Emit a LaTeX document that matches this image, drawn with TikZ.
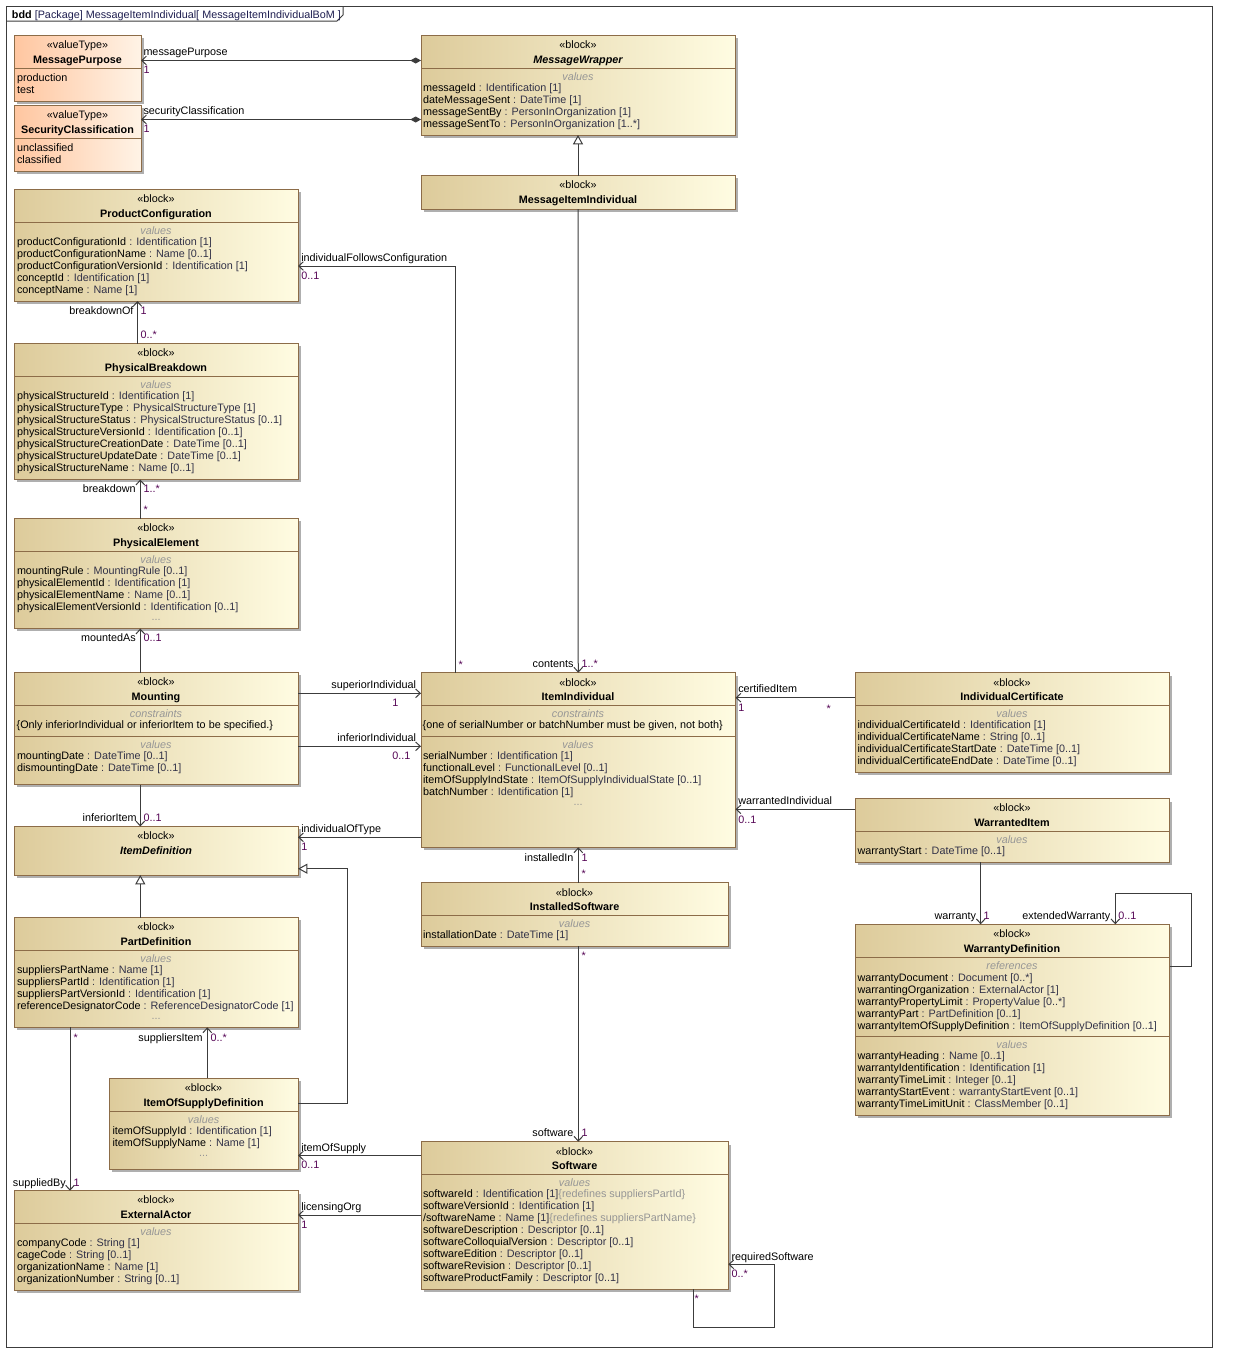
\documentclass[tikz,border=0pt]{standalone}
\usepackage{fontspec}
\setmainfont{Liberation Sans}
\usetikzlibrary{arrows.meta,shadows,fit}
\definecolor{bord}{RGB}{140,108,72}
\definecolor{blkL}{RGB}{221,203,155}
\definecolor{blkR}{RGB}{255,252,226}
\definecolor{vtL}{RGB}{255,198,160}
\definecolor{vtR}{RGB}{255,243,230}
\definecolor{typc}{RGB}{50,50,72}
\definecolor{multc}{RGB}{85,5,85}
\definecolor{lnc}{RGB}{60,60,60}
\definecolor{gtxt}{RGB}{150,150,150}
\definecolor{shad}{RGB}{175,175,175}
\definecolor{navyt}{RGB}{30,30,80}
\newcommand{\typ}[1]{\textcolor{typc}{#1}}
\newcommand{\rdf}[1]{\textcolor{gtxt}{#1}}
\newcounter{tnc}
\tikzset{
 autoname/.code={\stepcounter{tnc}\pgfkeysalso{/tikz/name=tx\arabic{tnc}}},
 blk/.style={draw=bord, line width=0.75pt, left color=blkL, right color=blkR,
   drop shadow={shadow xshift=2.2pt, shadow yshift=-2.2pt, fill=shad, opacity=1}},
 vt/.style={blk, left color=vtL, right color=vtR},
 sepl/.style={draw=bord, line width=0.75pt},
 st/.style={anchor=mid, yshift=-0.6pt, autoname},
 nm/.style={anchor=mid, yshift=-0.6pt, font=\fontsize{8.1}{9}\selectfont\bfseries, autoname},
 nmi/.style={anchor=mid, yshift=-0.6pt, font=\fontsize{8.1}{9}\selectfont\bfseries\itshape, autoname},
 cmp/.style={anchor=mid, yshift=-0.6pt, text=gtxt, font=\fontsize{8.1}{9}\selectfont\itshape, autoname},
 dts/.style={anchor=mid, yshift=-0.6pt, text=gtxt, autoname},
 al/.style={anchor=mid west, yshift=-0.6pt, autoname},
 rl/.style={anchor=mid west, yshift=-0.6pt, autoname},
 rr/.style={anchor=mid east, yshift=-0.6pt, autoname},
 ml/.style={anchor=mid west, yshift=-0.6pt, text=multc, autoname},
 mr/.style={anchor=mid east, yshift=-0.6pt, text=multc, autoname},
 asc/.style={draw=lnc, line width=0.75pt, -{Straight Barb[length=3.5pt,width=6.5pt]}},
 cps/.style={draw=lnc, line width=0.75pt, {Diamond[length=8pt,width=4.5pt,fill=lnc]}-{Straight Barb[length=3.5pt,width=6.5pt]}},
 gen/.style={draw=lnc, line width=0.75pt, -{Triangle[open,length=7pt,width=7.5pt,fill=white]}},
}
\begin{document}
\begin{tikzpicture}[x=0.75pt,y=-0.75pt,
  every node/.style={inner sep=0pt, outer sep=0pt, font=\fontsize{8.1}{9}\selectfont}]
\useasboundingbox (0,0) rectangle (1236,1372);
\fill[white] (0,0) rectangle (1236,1372);
% frame
\draw[lnc, line width=0.75pt] (6,6) rectangle (1212,1347);
\draw[lnc, line width=0.75pt] (6,21) -- (337,21) -- (343,15) -- (343,6);
\node[al] at (12,14) {\textbf{bdd} \textcolor{navyt}{[Package] MessageItemIndividual[ MessageItemIndividualBoM ]}};

% ---------------- MessagePurpose
\node[vt, fit={(14,35) (141,101)}] (mp) {};
\node[st] at (77.5,44.5) {«valueType»};
\node[nm] at (77.5,59.3) {MessagePurpose};
\draw[sepl] (mp.west|-0,68.5) -- (mp.east|-0,68.5);
\node[al] at (17,77.3) {production};
\node[al] at (17,89.3) {test};
% ---------------- SecurityClassification
\node[vt, fit={(14,105) (141,171)}] (sc) {};
\node[st] at (77.5,114.5) {«valueType»};
\node[nm] at (77.5,129.3) {SecurityClassification};
\draw[sepl] (sc.west|-0,138.5) -- (sc.east|-0,138.5);
\node[al] at (17,147.3) {unclassified};
\node[al] at (17,159.3) {classified};

% ---------------- MessageWrapper
\node[blk, fit={(421,35) (735,135)}] (mw) {};
\node[st] at (578,44.5) {«block»};
\node[nmi] at (578,59.3) {MessageWrapper};
\draw[sepl] (mw.west|-0,68.5) -- (mw.east|-0,68.5);
\node[cmp] at (578,75.7) {values};
\node[al] at (423,87.3) {messageId \typ{: Identification [1]}};
\node[al] at (423,99.3) {dateMessageSent \typ{: DateTime [1]}};
\node[al] at (423,111.3) {messageSentBy \typ{: PersonInOrganization [1]}};
\node[al] at (423,123.3) {messageSentTo \typ{: PersonInOrganization [1..*]}};

% ---------------- MessageItemIndividual
\node[blk, fit={(421,175.5) (735,209)}] (mii) {};
\node[st] at (578,184.5) {«block»};
\node[nm] at (578,199.3) {MessageItemIndividual};

% ---------------- ProductConfiguration
\node[blk, fit={(14,189.5) (298,301)}] (pc) {};
\node[st] at (156,198.5) {«block»};
\node[nm] at (156,213.3) {ProductConfiguration};
\draw[sepl] (pc.west|-0,222.5) -- (pc.east|-0,222.5);
\node[cmp] at (156,229.7) {values};
\node[al] at (17,241.3) {productConfigurationId \typ{: Identification [1]}};
\node[al] at (17,253.3) {productConfigurationName \typ{: Name [0..1]}};
\node[al] at (17,265.3) {productConfigurationVersionId \typ{: Identification [1]}};
\node[al] at (17,277.3) {conceptId \typ{: Identification [1]}};
\node[al] at (17,289.3) {conceptName \typ{: Name [1]}};

% ---------------- PhysicalBreakdown
\node[blk, fit={(14,343.5) (298,479.5)}] (pb) {};
\node[st] at (156,352.5) {«block»};
\node[nm] at (156,367.3) {PhysicalBreakdown};
\draw[sepl] (pb.west|-0,376.5) -- (pb.east|-0,376.5);
\node[cmp] at (156,383.7) {values};
\node[al] at (17,395.3) {physicalStructureId \typ{: Identification [1]}};
\node[al] at (17,407.3) {physicalStructureType \typ{: PhysicalStructureType [1]}};
\node[al] at (17,419.3) {physicalStructureStatus \typ{: PhysicalStructureStatus [0..1]}};
\node[al] at (17,431.3) {physicalStructureVersionId \typ{: Identification [0..1]}};
\node[al] at (17,443.3) {physicalStructureCreationDate \typ{: DateTime [0..1]}};
\node[al] at (17,455.3) {physicalStructureUpdateDate \typ{: DateTime [0..1]}};
\node[al] at (17,467.3) {physicalStructureName \typ{: Name [0..1]}};

% ---------------- PhysicalElement
\node[blk, fit={(14,518.5) (298,628.5)}] (pe) {};
\node[st] at (156,527.5) {«block»};
\node[nm] at (156,542.3) {PhysicalElement};
\draw[sepl] (pe.west|-0,551.3) -- (pe.east|-0,551.3);
\node[cmp] at (156,558.7) {values};
\node[al] at (17,570.3) {mountingRule \typ{: MountingRule [0..1]}};
\node[al] at (17,582.3) {physicalElementId \typ{: Identification [1]}};
\node[al] at (17,594.3) {physicalElementName \typ{: Name [0..1]}};
\node[al] at (17,606.3) {physicalElementVersionId \typ{: Identification [0..1]}};
\node[dts] at (156,616) {...};

% ---------------- Mounting
\node[blk, fit={(14,672.5) (298,784.5)}] (mo) {};
\node[st] at (156,681.5) {«block»};
\node[nm] at (156,696.3) {Mounting};
\draw[sepl] (mo.west|-0,705.5) -- (mo.east|-0,705.5);
\node[cmp] at (156,712.7) {constraints};
\node[al] at (16.7,724.3) {\{Only inferiorIndividual or inferiorItem to be specified.\}};
\draw[sepl] (mo.west|-0,736.5) -- (mo.east|-0,736.5);
\node[cmp] at (156,743.7) {values};
\node[al] at (17,755.3) {mountingDate \typ{: DateTime [0..1]}};
\node[al] at (17,767.3) {dismountingDate \typ{: DateTime [0..1]}};

% ---------------- ItemDefinition
\node[blk, fit={(14,826.5) (298,875)}] (idf) {};
\node[st] at (156,835.5) {«block»};
\node[nmi] at (156,850.3) {ItemDefinition};

% ---------------- PartDefinition
\node[blk, fit={(14,917.5) (298,1027.3)}] (pd) {};
\node[st] at (156,926.5) {«block»};
\node[nm] at (156,941.3) {PartDefinition};
\draw[sepl] (pd.west|-0,950.5) -- (pd.east|-0,950.5);
\node[cmp] at (156,957.7) {values};
\node[al] at (17,969.3) {suppliersPartName \typ{: Name [1]}};
\node[al] at (17,981.3) {suppliersPartId \typ{: Identification [1]}};
\node[al] at (17,993.3) {suppliersPartVersionId \typ{: Identification [1]}};
\node[al] at (17,1005.3) {referenceDesignatorCode \typ{: ReferenceDesignatorCode [1]}};
\node[dts] at (156,1015) {...};

% ---------------- ItemOfSupplyDefinition
\node[blk, fit={(109.3,1078.3) (298,1169)}] (iosd) {};
\node[st] at (203.6,1087.5) {«block»};
\node[nm] at (203.6,1102.3) {ItemOfSupplyDefinition};
\draw[sepl] (iosd.west|-0,1111.5) -- (iosd.east|-0,1111.5);
\node[cmp] at (203.6,1119) {values};
\node[al] at (112.5,1130.3) {itemOfSupplyId \typ{: Identification [1]}};
\node[al] at (112.5,1142.3) {itemOfSupplyName \typ{: Name [1]}};
\node[dts] at (203.6,1152.5) {...};

% ---------------- ExternalActor
\node[blk, fit={(14,1190.7) (298,1290)}] (ea) {};
\node[st] at (156,1199.5) {«block»};
\node[nm] at (156,1214.3) {ExternalActor};
\draw[sepl] (ea.west|-0,1223.5) -- (ea.east|-0,1223.5);
\node[cmp] at (156,1231) {values};
\node[al] at (17,1242.3) {companyCode \typ{: String [1]}};
\node[al] at (17,1254.3) {cageCode \typ{: String [0..1]}};
\node[al] at (17,1266.3) {organizationName \typ{: Name [1]}};
\node[al] at (17,1278.3) {organizationNumber \typ{: String [0..1]}};

% ---------------- ItemIndividual
\node[blk, fit={(421,672.7) (735.5,847.3)}] (ii) {};
\node[st] at (578,681.7) {«block»};
\node[nm] at (578,696.3) {ItemIndividual};
\draw[sepl] (ii.west|-0,705.5) -- (ii.east|-0,705.5);
\node[cmp] at (578,712.7) {constraints};
\node[al] at (422.7,724.3) {\{one of serialNumber or batchNumber must be given, not both\}};
\draw[sepl] (ii.west|-0,736.4) -- (ii.east|-0,736.4);
\node[cmp] at (578,743.7) {values};
\node[al] at (423,755.3) {serialNumber \typ{: Identification [1]}};
\node[al] at (423,767.3) {functionalLevel \typ{: FunctionalLevel [0..1]}};
\node[al] at (423,779.3) {itemOfSupplyIndState \typ{: ItemOfSupplyIndividualState [0..1]}};
\node[al] at (423,791.3) {batchNumber \typ{: Identification [1]}};
\node[dts] at (578,801.5) {...};

% ---------------- InstalledSoftware
\node[blk, fit={(421,882.7) (728.3,946)}] (is) {};
\node[st] at (574.6,891.8) {«block»};
\node[nm] at (574.6,906.3) {InstalledSoftware};
\draw[sepl] (is.west|-0,915.2) -- (is.east|-0,915.2);
\node[cmp] at (574.6,922.7) {values};
\node[al] at (423,934.3) {installationDate \typ{: DateTime [1]}};

% ---------------- Software
\node[blk, fit={(421,1141.7) (728.3,1289.3)}] (sw) {};
\node[st] at (574.6,1150.7) {«block»};
\node[nm] at (574.6,1165.3) {Software};
\draw[sepl] (sw.west|-0,1174.3) -- (sw.east|-0,1174.3);
\node[cmp] at (574.6,1182) {values};
\node[al] at (423,1193.3) {softwareId \typ{: Identification [1]}\rdf{\{redefines suppliersPartId\}}};
\node[al] at (423,1205.3) {softwareVersionId \typ{: Identification [1]}};
\node[al] at (423,1217.3) {/softwareName \typ{: Name [1]}\rdf{\{redefines suppliersPartName\}}};
\node[al] at (423,1229.3) {softwareDescription \typ{: Descriptor [0..1]}};
\node[al] at (423,1241.3) {softwareColloquialVersion \typ{: Descriptor [0..1]}};
\node[al] at (423,1253.3) {softwareEdition \typ{: Descriptor [0..1]}};
\node[al] at (423,1265.3) {softwareRevision \typ{: Descriptor [0..1]}};
\node[al] at (423,1277.3) {softwareProductFamily \typ{: Descriptor [0..1]}};

% ---------------- IndividualCertificate
\node[blk, fit={(855,672.7) (1169.5,772.3)}] (ic) {};
\node[st] at (1012,681.7) {«block»};
\node[nm] at (1012,696.3) {IndividualCertificate};
\draw[sepl] (ic.west|-0,705.4) -- (ic.east|-0,705.4);
\node[cmp] at (1012,712.7) {values};
\node[al] at (857.5,724.3) {individualCertificateId \typ{: Identification [1]}};
\node[al] at (857.5,736.3) {individualCertificateName \typ{: String [0..1]}};
\node[al] at (857.5,748.3) {individualCertificateStartDate \typ{: DateTime [0..1]}};
\node[al] at (857.5,760.3) {individualCertificateEndDate \typ{: DateTime [0..1]}};

% ---------------- WarrantedItem
\node[blk, fit={(855,798.7) (1169.5,862.3)}] (wi) {};
\node[st] at (1012,807.5) {«block»};
\node[nm] at (1012,822.3) {WarrantedItem};
\draw[sepl] (wi.west|-0,831.4) -- (wi.east|-0,831.4);
\node[cmp] at (1012,839) {values};
\node[al] at (857.5,850.3) {warrantyStart \typ{: DateTime [0..1]}};

% ---------------- WarrantyDefinition
\node[blk, fit={(855,924.3) (1169.5,1115)}] (wd) {};
\node[st] at (1012,933.5) {«block»};
\node[nm] at (1012,948.3) {WarrantyDefinition};
\draw[sepl] (wd.west|-0,957.8) -- (wd.east|-0,957.8);
\node[cmp] at (1012,965) {references};
\node[al] at (857.5,976.7) {warrantyDocument \typ{: Document [0..*]}};
\node[al] at (857.5,988.7) {warrantingOrganization \typ{: ExternalActor [1]}};
\node[al] at (857.5,1000.7) {warrantyPropertyLimit \typ{: PropertyValue [0..*]}};
\node[al] at (857.5,1012.7) {warrantyPart \typ{: PartDefinition [0..1]}};
\node[al] at (857.5,1024.7) {warrantyItemOfSupplyDefinition \typ{: ItemOfSupplyDefinition [0..1]}};
\draw[sepl] (wd.west|-0,1036) -- (wd.east|-0,1036);
\node[cmp] at (1012,1043.7) {values};
\node[al] at (857.5,1055.3) {warrantyHeading \typ{: Name [0..1]}};
\node[al] at (857.5,1067.3) {warrantyIdentification \typ{: Identification [1]}};
\node[al] at (857.5,1079.3) {warrantyTimeLimit \typ{: Integer [0..1]}};
\node[al] at (857.5,1091.3) {warrantyStartEvent \typ{: warrantyStartEvent [0..1]}};
\node[al] at (857.5,1103.3) {warrantyTimeLimitUnit \typ{: ClassMember [0..1]}};

% ================= connectors
\draw[cps] (mw.west|-0,60.5) -- (mp.east|-0,60.5);
\node[rl] at (143.5,51.5) {messagePurpose};
\node[ml] at (143.5,69.2) {1};
\draw[cps] (mw.west|-0,119.5) -- (sc.east|-0,119.5);
\node[rl] at (143.5,110.3) {securityClassification};
\node[ml] at (143.5,127.8) {1};

\draw[gen] (mii.north) -- (mw.south);

\draw[asc] (mii.south) -- (ii.north);
\node[rr] at (573.5,663.3) {contents};
\node[ml] at (581.5,663.3) {1..*};

\draw[asc] (ii.north -| 455.5,0) |- (pc.east|-0,266);
\node[rl] at (301.3,257.3) {individualFollowsConfiguration};
\node[ml] at (301.3,275) {0..1};
\node[ml] at (458.5,664) {*};

\draw[asc] (pb.north -| 137.5,0) -- (pc.south -| 137.5,0);
\node[rr] at (133.5,310.3) {breakdownOf};
\node[ml] at (140.7,310.3) {1};
\node[ml] at (140.7,333.7) {0..*};

\draw[asc] (pe.north -| 140.3,0) -- (pb.south -| 140.3,0);
\node[rr] at (135.7,488) {breakdown};
\node[ml] at (143.5,488) {1..*};
\node[ml] at (143.5,509.5) {*};

\draw[asc] (mo.north -| 140.3,0) -- (pe.south -| 140.3,0);
\node[rr] at (135.7,637.3) {mountedAs};
\node[ml] at (143.5,637.3) {0..1};

\draw[asc] (mo.east|-0,693.3) -- (ii.west|-0,693.3);
\node[rr] at (416,684) {superiorIndividual};
\node[mr] at (398.5,702) {1};
\draw[asc] (mo.east|-0,746.3) -- (ii.west|-0,746.3);
\node[rr] at (416,737) {inferiorIndividual};
\node[mr] at (410.3,755.3) {0..1};

\draw[asc] (mo.south -| 140.3,0) -- (idf.north -| 140.3,0);
\node[rr] at (136.7,817.3) {inferiorItem};
\node[ml] at (143.5,817.3) {0..1};

\draw[asc] (ii.west|-0,837.3) -- (idf.east|-0,837.3);
\node[rl] at (301.3,828.3) {individualOfType};
\node[ml] at (301.3,846.5) {1};

\draw[gen] (pd.north -| 140.3,0) -- (idf.south -| 140.3,0);
\draw[gen] (iosd.east|-0,1103) -| (347.7,868.7) -- (idf.east|-0,868.7);

\draw[asc] (pd.south -| 70,0) -- (ea.north -| 70,0);
\node[ml] at (73.5,1037) {*};
\node[rr] at (65.7,1182) {suppliedBy};
\node[ml] at (73.5,1182) {1};

\draw[asc] (iosd.north -| 207.3,0) -- (pd.south -| 207.3,0);
\node[rr] at (202.7,1036.7) {suppliersItem};
\node[ml] at (210.7,1036.7) {0..*};

\draw[asc] (sw.west|-0,1155.5) -- (iosd.east|-0,1155.5);
\node[rl] at (301.3,1146.7) {itemOfSupply};
\node[ml] at (301.3,1164.3) {0..1};
\draw[asc] (sw.west|-0,1215) -- (ea.east|-0,1215);
\node[rl] at (301.3,1206.3) {licensingOrg};
\node[ml] at (301.3,1224) {1};

\draw[asc] (is.north -| 578.3,0) -- (ii.south -| 578.3,0);
\node[rr] at (573.3,856.7) {installedIn};
\node[ml] at (581.5,856.7) {1};
\node[ml] at (581.5,873.5) {*};

\draw[asc] (is.south -| 578.3,0) -- (sw.north -| 578.3,0);
\node[ml] at (581.5,955) {*};
\node[rr] at (573.3,1132.3) {software};
\node[ml] at (581.5,1132.3) {1};

\draw[asc] (sw.south -| 693.3,0) |- (774.3,1327) |- (sw.east|-0,1264.3);
\node[rl] at (731.5,1255.7) {requiredSoftware};
\node[ml] at (731.5,1273.3) {0..*};
\node[ml] at (694.5,1298.5) {*};

\draw[asc] (ic.west|-0,697.7) -- (ii.east|-0,697.7);
\node[rl] at (738.3,688.3) {certifiedItem};
\node[ml] at (738.3,706.7) {1};
\node[ml] at (826.5,708) {*};

\draw[asc] (wi.west|-0,809.3) -- (ii.east|-0,809.3);
\node[rl] at (738.3,800) {warrantedIndividual};
\node[ml] at (738.3,818.7) {0..1};

\draw[asc] (wi.south -| 980.7,0) -- (wd.north -| 980.7,0);
\node[rr] at (976,915) {warranty};
\node[ml] at (983.5,915) {1};

\draw[asc] (wd.east|-0,966) -| (1191.3,893.3) -| (wd.north -| 1115.3,0);
\node[rr] at (1110.3,915) {extendedWarranty};
\node[ml] at (1118.3,915) {0..1};
\end{tikzpicture}
\end{document}
